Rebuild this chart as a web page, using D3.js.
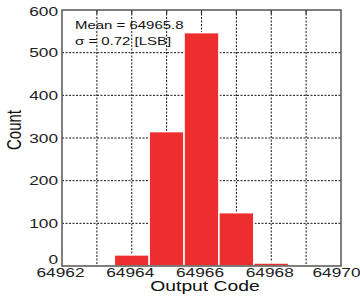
<!DOCTYPE html>
<html>
<head>
<meta charset="utf-8">
<script src="https://cdn.jsdelivr.net/npm/d3@7"></script>
<style>
  body { margin: 0; background: #fff; }
  text { font-family: "Liberation Sans", Arial, sans-serif; }
</style>
</head>
<body>
<svg id="chart" width="360" height="297"></svg>
<script>
// histogram of output codes
var codes = [64964, 64965, 64966, 64967, 64968];
var counts = [26, 315, 547, 125, 7];
var xTicks = [64962, 64964, 64966, 64968, 64970];
var xGrid = [64963, 64964, 64965, 64966, 64967, 64968, 64969];
var yTicks = [0, 100, 200, 300, 400, 500, 600];
var notes = ["Mean = 64965.8", "\u03c3 = 0.72 [LSB]"];

var stretch = 1.33; // the reference text is drawn wide

var svg = d3.select("#chart"),
    margin = {top: 10, right: 19, bottom: 31, left: 62},
    width = +svg.attr("width") - margin.left - margin.right,
    height = +svg.attr("height") - margin.top - margin.bottom;

var g = svg.append("g").attr("transform", "translate(" + margin.left + "," + margin.top + ")");

var x = d3.scaleLinear().domain([64962, 64970]).range([0, width]);
var y = d3.scaleLinear().domain([0, 600]).range([height, 0]);

// grid
g.selectAll("line.vgrid").data(xGrid).enter().append("line")
    .attr("x1", function(d) { return x(d); }).attr("x2", function(d) { return x(d); })
    .attr("y1", 0).attr("y2", height)
    .attr("stroke", "#111").attr("stroke-width", 1).attr("stroke-dasharray", "2,1.5");
g.selectAll("line.hgrid").data(yTicks.slice(1, -1)).enter().append("line")
    .attr("y1", function(d) { return y(d); }).attr("y2", function(d) { return y(d); })
    .attr("x1", 0).attr("x2", width)
    .attr("stroke", "#111").attr("stroke-width", 1).attr("stroke-dasharray", "2,1.5");

// bars
g.selectAll("rect.bar").data(codes).enter().append("rect")
    .attr("fill", "#ee2e2e")
    .attr("stroke", "#fff").attr("stroke-width", 1.5)
    .attr("x", function(d) { return x(d - 0.5); })
    .attr("width", function(d) { return x(d + 0.5) - x(d - 0.5); })
    .attr("y", function(d, i) { return y(counts[i]); })
    .attr("height", function(d, i) { return height - y(counts[i]); });

// axes
var xAxis = d3.axisBottom(x).tickValues(xTicks).tickFormat(d3.format("d")).tickSize(0).tickPadding(2);
var yAxis = d3.axisLeft(y).tickValues(yTicks).tickSize(0).tickPadding(3);

var gx = g.append("g").attr("transform", "translate(0," + height + ")").call(xAxis);
var gy = g.append("g").call(yAxis);
[gx, gy].forEach(function(a) {
  a.select(".domain").remove();
  a.selectAll("text").attr("font-size", 13).attr("fill", "#222")
    .attr("font-family", "'Liberation Sans', Arial, sans-serif");
});
gy.selectAll("text").attr("transform", "scale(" + stretch + ",1)");
// x labels sit a bit left of their tick, the last one pulled in to fit
gx.selectAll("text").attr("transform", function(d) {
  var shift = d === 64970 ? -5 : -2;
  return "translate(" + shift + ",0) scale(" + stretch + ",1)";
});
// the zero label sits just above the corner
gy.selectAll(".tick").filter(function(d) { return d === 0; }).select("text").attr("dy", "-0.22em");
gy.selectAll(".tick").filter(function(d) { return d === 600; }).select("text").attr("dy", "0.45em");

// top tick marks
g.selectAll("line.ttick").data(xGrid).enter().append("line")
    .attr("x1", function(d) { return x(d); }).attr("x2", function(d) { return x(d); })
    .attr("y1", 0).attr("y2", 4).attr("stroke", "#333").attr("stroke-width", 1.2);

// frame
g.append("rect").attr("x", 0).attr("y", 0).attr("width", width).attr("height", height)
    .attr("fill", "none").attr("stroke", "#555").attr("stroke-width", 1.5);

// annotations
g.selectAll("text.note").data(notes).enter().append("text")
    .attr("transform", function(d, i) { return "translate(13," + (18.5 + i * 16.5) + ") scale(1.36,1)"; })
    .attr("font-size", 11).attr("fill", "#111")
    .text(function(d) { return d; });

// axis titles
svg.append("text")
    .attr("transform", "translate(205,291) scale(1.38,1)")
    .attr("text-anchor", "middle").attr("font-size", 14).attr("fill", "#111")
    .text("Output Code");
svg.append("text")
    .attr("transform", "translate(20.5,130) scale(1.33,1) rotate(-90)")
    .attr("text-anchor", "middle").attr("font-size", 15).attr("fill", "#111")
    .text("Count");
</script>
</body>
</html>
